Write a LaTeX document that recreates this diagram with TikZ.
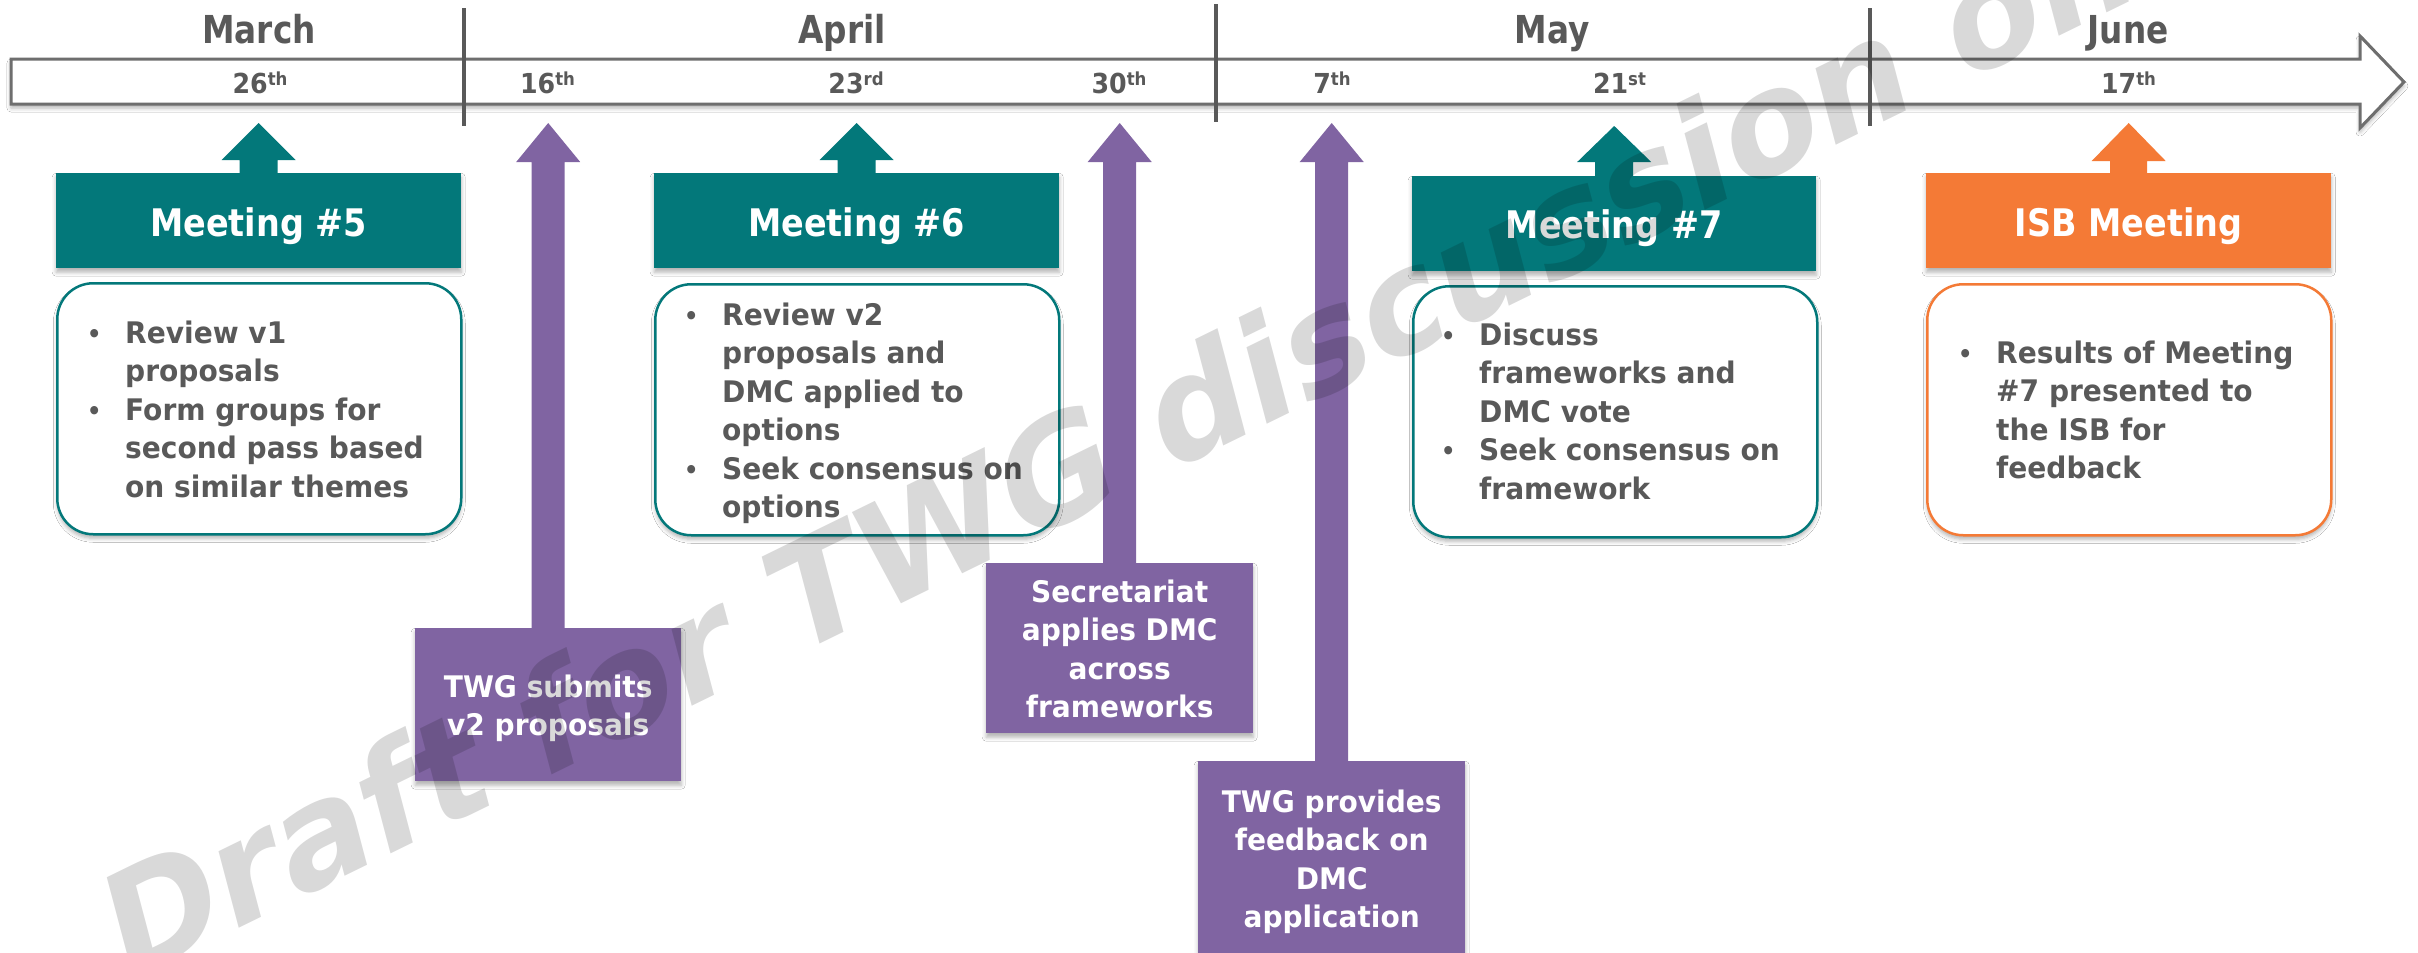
\documentclass[tikz,border=0pt]{standalone}
\usepackage{graphicx}
\usepackage{fontspec}
\setmainfont{DejaVu Sans}
\newfontfamily\fmonth{DejaVu Sans}[FakeStretch=0.85]
\newfontfamily\ftitle{DejaVu Sans}[FakeStretch=0.88]
\newfontfamily\fdate{DejaVu Sans}[FakeStretch=0.92]
\newfontfamily\fbody{DejaVu Sans}[FakeStretch=0.945]
\newfontfamily\fwm{DejaVu Sans}[FakeSlant=0.2]
\usetikzlibrary{calc,shadows.blur}
\definecolor{tealc}{HTML}{03787A}
\definecolor{purc}{HTML}{8064A2}
\definecolor{orac}{HTML}{F47A36}
\definecolor{txtc}{HTML}{595959}
\definecolor{linec}{HTML}{6E6E6E}
\newcommand{\sups}[1]{\raisebox{8pt}{\fontsize{18}{18}\selectfont #1}}
\newcommand{\bl}{\makebox[38pt][l]{\raisebox{1pt}{\scalebox{0.8}{•}}}&}
\newcommand{\blist}[1]{\begin{tabular}[t]{@{}l@{}l@{}}#1\end{tabular}}
\newcommand{\clist}[1]{\begin{tabular}[t]{@{}c@{}}#1\end{tabular}}
\newcommand{\blockarr}[6]{%
  \fill[#1] (#2) -- ($(#2)+(#4,#6)$) -- ($(#2)+(#5,#6)$) -- ($(#3.north)+(#5,2)$)
    -- ($(#3.north)+(-#5,2)$) -- ($(#2)+(-#5,#6)$) -- ($(#2)+(-#4,#6)$) -- cycle;}
\tikzset{
  shad/.style={blur shadow={shadow xshift=0pt, shadow yshift=-4pt, shadow blur radius=4pt, shadow opacity=30}},
  month/.style={anchor=base, text=txtc, inner sep=0pt, font=\fmonth\bfseries\fontsize{38.5}{40}\selectfont},
  datelbl/.style={anchor=base, text=txtc, inner sep=0pt, font=\fdate\bfseries\fontsize{27.5}{30}\selectfont},
  divider/.style={draw=txtc, line width=4pt},
  titlebox/.style={fill=#1, shad, minimum width=405pt, minimum height=95pt, inner sep=0pt, anchor=north west},
  titletext/.style={anchor=base, text=white, inner sep=0pt, font=\ftitle\bfseries\fontsize{38}{40}\selectfont},
  roundbox/.style={draw=#1, line width=2.5pt, fill=white, rounded corners=36pt, shad, minimum width=404pt, minimum height=251pt, inner sep=0pt, anchor=north west},
  bullettext/.style={anchor=base west, text=txtc, inner sep=0pt, font=\fbody\bfseries\fontsize{29.7}{38.5}\selectfont},
  purplebox/.style={fill=purc, shad, inner sep=0pt, anchor=north west},
  purpletext/.style={anchor=base, text=white, inner sep=0pt, font=\fbody\bfseries\fontsize{29.7}{38.6}\selectfont},
  watermark/.style={anchor=base west, inner sep=0pt, text=black, text opacity=0.15, rotate=26.1, font=\fwm\bfseries\fontsize{142}{150}\selectfont}
}
\begin{document}
\begin{tikzpicture}[x=1pt,y=-1pt]
\clip (0,0) rectangle (2418,953);
\fill[white] (0,0) rectangle (2418,953);
% timeline bar
\path[fill=white, draw=linec, line width=3pt, shad] (11,59) -- (2360,59) -- (2360,36) -- (2404,82) -- (2360,128) -- (2360,104) -- (11,104) -- cycle;
\draw[divider] (464,8) -- (464,126);
\draw[divider] (1216,4) -- (1216,122);
\draw[divider] (1870,8) -- (1870,126);
% months
\node[month] (mar) at (259,43) {March};
\node[month] (apr) at (842,43) {April};
\node[month] (may) at (1552,43) {May};
\node[month] (jun) at (2128,43) {June};
% dates
\node[datelbl] (d26) at (260,93) {26\sups{th}};
\node[datelbl] (d16) at (547.5,93) {16\sups{th}};
\node[datelbl] (d23) at (856,93) {23\sups{rd}};
\node[datelbl] (d30) at (1119,93) {30\sups{th}};
\node[datelbl] (d7) at (1332,93) {7\sups{th}};
\node[datelbl] (d21) at (1619.5,93) {21\sups{st}};
\node[datelbl] (d17) at (2128.5,93) {17\sups{th}};
% title boxes
\node[titlebox=tealc] (m5) at (56,173) {};
\node[titlebox=tealc] (m6) at (654,173) {};
\node[titlebox=tealc, minimum width=404pt] (m7) at (1412,176) {};
\node[titlebox=orac] (isb) at (1926,173) {};
\node[titletext] (m5t) at (m5.center |- 0,236) {Meeting \#5};
\node[titletext] (m6t) at (m6.center |- 0,236) {Meeting \#6};
\node[titletext] (m7t) at (m7.center |- 0,238) {Meeting \#7};
\node[titletext] (isbt) at (isb.center |- 0,236) {ISB Meeting};
% rounded boxes
\node[roundbox=tealc] (m5b) at (56,282) {};
\node[roundbox=tealc] (m6b) at (654,283) {};
\node[roundbox=tealc] (m7b) at (1412,285) {};
\node[roundbox=orac] (isbb) at (1926,283) {};
\node[bullettext] (m5x) at (87,343) {\blist{\bl Review v1\\ & proposals\\ \bl Form groups for\\ & second pass based\\ & on similar themes}};
\node[bullettext] (m6x) at (684,325) {\blist{\bl Review v2\\ & proposals and\\ & DMC applied to\\ & options\\ \bl Seek consensus on\\ & options}};
\node[bullettext] (m7x) at (1441,345) {\blist{\bl Discuss\\ & frameworks and\\ & DMC vote\\ \bl Seek consensus on\\ & framework}};
\node[bullettext] (isbx) at (1958,363) {\blist{\bl Results of Meeting\\ & \#7 presented to\\ & the ISB for\\ & feedback}};
% purple boxes
\node[purplebox, minimum width=266pt, minimum height=153pt] (p16) at (415,628) {};
\node[purplebox, minimum width=267pt, minimum height=170pt] (p30) at (986,563) {};
\node[purplebox, minimum width=267pt, minimum height=200pt] (p7) at (1198,761) {};
\node[purpletext] (p16t) at (p16.center |- 0,697) {\clist{TWG submits\\ v2 proposals}};
\node[purpletext] (p30t) at (p30.center |- 0,602) {\clist{Secretariat\\ applies DMC\\ across\\ frameworks}};
\node[purpletext] (p7t) at (p7.center |- 0,812) {\clist{TWG provides\\ feedback on\\ DMC\\ application}};
% arrow tips on the timeline
\coordinate (h123) at (0,123);
\coordinate (h126) at (0,126);
\coordinate (tm5) at (m5.north |- h123);
\coordinate (tm6) at (m6.north |- h123);
\coordinate (tm7) at (m7.north |- h126);
\coordinate (tisb) at (isb.north |- h123);
\coordinate (tp16) at (p16.north |- h123);
\coordinate (tp30) at (p30.north |- h123);
\coordinate (tp7) at (p7.north |- h123);
\blockarr{tealc}{tm5}{m5}{37}{19}{37}
\blockarr{tealc}{tm6}{m6}{37}{19}{37}
\blockarr{tealc}{tm7}{m7}{37}{19}{36}
\blockarr{orac}{tisb}{isb}{37}{18.5}{38}
\blockarr{purc}{tp16}{p16}{32}{16.5}{39}
\blockarr{purc}{tp30}{p30}{32}{16.5}{39}
\blockarr{purc}{tp7}{p7}{32}{16.5}{39}
% watermark
\node[watermark] (wm) at (122.6,985.3) {Draft for TWG discussion only};
\end{tikzpicture}
\end{document}
